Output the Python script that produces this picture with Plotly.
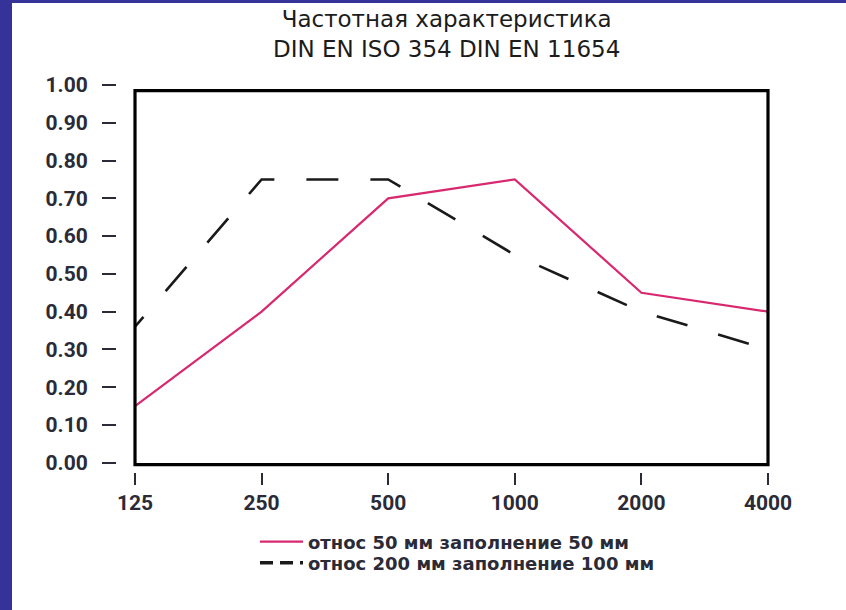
import math
import plotly.graph_objects as go

# Octave-band centre frequencies, Hz
freqs = [125, 250, 500, 1000, 2000, 4000]
freq_labels = ["125", "250", "500", "1000", "2000", "4000"]

# Sound absorption coefficients
alpha_50_50 = [0.15, 0.40, 0.70, 0.75, 0.45, 0.40]
alpha_200_100 = [0.36, 0.75, 0.75, 0.55, 0.40, 0.30]

y_ticks = [0.0, 0.1, 0.2, 0.3, 0.4, 0.5, 0.6, 0.7, 0.8, 0.9, 1.0]

name_50_50 = "относ 50 мм заполнение 50 мм"
name_200_100 = "относ 200 мм заполнение 100 мм"
title_text = "Частотная характеристика<br>DIN EN ISO 354 DIN EN 11654"

W, H = 846, 610
M_L, M_R, M_T, M_B = 116, 78, 85, 138
PW, PH = W - M_L - M_R, H - M_T - M_B

PINK = "#d8286f"
INK = "#2b2b38"
FRAME_BLUE = "#35329a"

# long dashes, starting part-way through the first dash
long_dash = ",".join(["13px", "34px"] + ["32px", "32px"] * 14)


def px_to_paper_x(px):
    return (px - M_L) / PW


def px_to_paper_y(py):
    return (H - M_B - py) / PH


fig = go.Figure()
fig.add_trace(go.Scatter(
    x=freqs, y=alpha_50_50, mode="lines", name=name_50_50,
    line=dict(color=PINK, width=2.2), legend="legend",
))
fig.add_trace(go.Scatter(
    x=freqs, y=alpha_200_100, mode="lines", name=name_200_100,
    line=dict(color="#1a1a1a", width=2.6, dash=long_dash),
    showlegend=False,
))
# legend entry with short dashes
fig.add_trace(go.Scatter(
    x=[None], y=[None], mode="lines", name=name_200_100,
    line=dict(color="#1a1a1a", width=3.5, dash="13px,7px"), legend="legend2",
))

shapes = [
    # plot frame
    dict(type="rect", xref="x domain", yref="y domain",
         x0=0, x1=1, y0=-0.005, y1=0.985,
         line=dict(color="black", width=3.2), fillcolor="rgba(0,0,0,0)"),
    # blue page frame: left and top edges
    dict(type="rect", xref="paper", yref="paper",
         x0=px_to_paper_x(0), x1=px_to_paper_x(12),
         y0=px_to_paper_y(H), y1=px_to_paper_y(0),
         line=dict(width=0), fillcolor=FRAME_BLUE),
    dict(type="rect", xref="paper", yref="paper",
         x0=px_to_paper_x(0), x1=px_to_paper_x(W),
         y0=px_to_paper_y(3), y1=px_to_paper_y(0),
         line=dict(width=0), fillcolor=FRAME_BLUE),
]

tick_font = dict(family="Roboto", size=21, color=INK, weight="bold")
legend_font = dict(family="DejaVu Sans", size=18, color=INK, weight="bold")
legend_common = dict(
    xanchor="left", yanchor="middle", x=px_to_paper_x(255),
    font=legend_font, bgcolor="rgba(0,0,0,0)", itemwidth=43,
)

fig.update_layout(
    width=W, height=H,
    margin=dict(l=M_L, r=M_R, t=M_T, b=M_B, pad=0),
    paper_bgcolor="white", plot_bgcolor="white",
    annotations=[dict(
        text=title_text, xref="paper", yref="paper",
        x=px_to_paper_x(447), xanchor="center",
        y=px_to_paper_y(4), yanchor="top", showarrow=False,
        font=dict(family="DejaVu Sans", size=23, color="#1c1c1c"),
    )],
    xaxis=dict(
        type="log", range=[math.log10(freqs[0]), math.log10(freqs[-1])],
        domain=[(135 - M_L) / PW, 1], anchor="free", position=0,
        tickvals=freqs, ticktext=freq_labels,
        ticks="outside", ticklen=12, tickwidth=2, tickcolor=INK,
        ticklabelstandoff=0,
        showline=False, showgrid=False, zeroline=False,
        tickfont=tick_font,
    ),
    yaxis=dict(
        range=[0, 1], domain=[(472 - 462.7) / PH, 1], anchor="free", position=0,
        tickvals=y_ticks, tickformat=".2f",
        ticks="outside", ticklen=14, tickwidth=2, tickcolor=INK,
        ticklabelstandoff=10,
        showline=False, showgrid=False, zeroline=False,
        tickfont=tick_font,
    ),
    legend=dict(y=px_to_paper_y(542), **legend_common),
    legend2=dict(y=px_to_paper_y(563), **legend_common),
    shapes=shapes,
)

fig.write_html("out.html", config={"displayModeBar": False})
